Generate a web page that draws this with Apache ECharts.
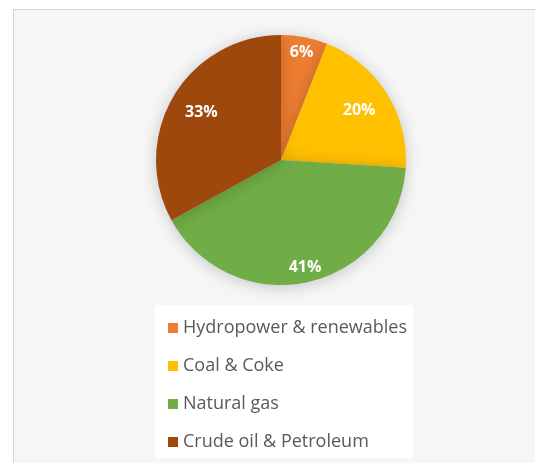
<!DOCTYPE html>
<html>
<head>
<meta charset="utf-8">
<script src="https://cdn.jsdelivr.net/npm/echarts@6/dist/echarts.min.js"></script>
<style>
  html, body { margin: 0; padding: 0; background: #fff; overflow: hidden; }
  #chart {
    position: absolute;
    left: 13px;
    top: 9px;
    width: 522px;
    height: 480px;
    background: #f6f6f6;
    border-top: 1px solid #d6d6d6;
    border-left: 1px solid #d6d6d6;
  }
</style>
</head>
<body>
<div id="chart"></div>
<script>
// energy mix shares (%)
const categories = ['Hydropower & renewables', 'Coal & Coke', 'Natural gas', 'Crude oil & Petroleum']
const shares = [6, 20, 41, 33]
const colors = ['#ED7D31', '#FFC000', '#70AD47', '#9E480E']
// which label ring each slice's percentage sits on (outer for the thin/low ones)
const outerLabel = [true, false, true, false]

const CENTER = [267, 150]
const R = 125

const data = categories.map((name, i) => ({ name, value: shares[i] }))

const labelStyle = {
  position: 'inside',
  formatter: (p) => `${p.value}%`,
  color: '#ffffff',
  fontFamily: 'Open Sans',
  fontWeight: 'bold',
  fontSize: 16
}

// transparent ring that only carries labels for the chosen slices
const labelRing = (inner, useOuter) => ({
  type: 'pie',
  center: CENTER,
  radius: [inner, R],
  startAngle: 90,
  clockwise: true,
  silent: true,
  legendHoverLink: false,
  data: data.map((d, i) => ({
    ...d,
    label: { show: outerLabel[i] === useOuter }
  })),
  itemStyle: { color: 'transparent' },
  label: labelStyle,
  labelLine: { show: false }
})

const chart = echarts.init(document.getElementById('chart'))

chart.setOption({
  animation: false,
  color: colors,
  legend: {
    orient: 'vertical',
    left: 141,
    top: 295,
    backgroundColor: '#ffffff',
    padding: [13, 6, 6, 13],
    icon: 'rect',
    itemWidth: 10,
    itemHeight: 10,
    itemGap: 18,
    textStyle: {
      color: '#595959',
      fontFamily: 'Open Sans',
      fontSize: 18,
      lineHeight: 20
    },
    data: categories
  },
  series: [
    {
      type: 'pie',
      center: CENTER,
      radius: R,
      startAngle: 90,
      clockwise: true,
      silent: true,
      data,
      itemStyle: {
        shadowBlur: 16,
        shadowColor: 'rgba(0,0,0,0.2)',
        shadowOffsetY: 2
      },
      label: { show: false },
      labelLine: { show: false }
    },
    labelRing(89, true),
    labelRing(54, false)
  ]
})
</script>
</body>
</html>
